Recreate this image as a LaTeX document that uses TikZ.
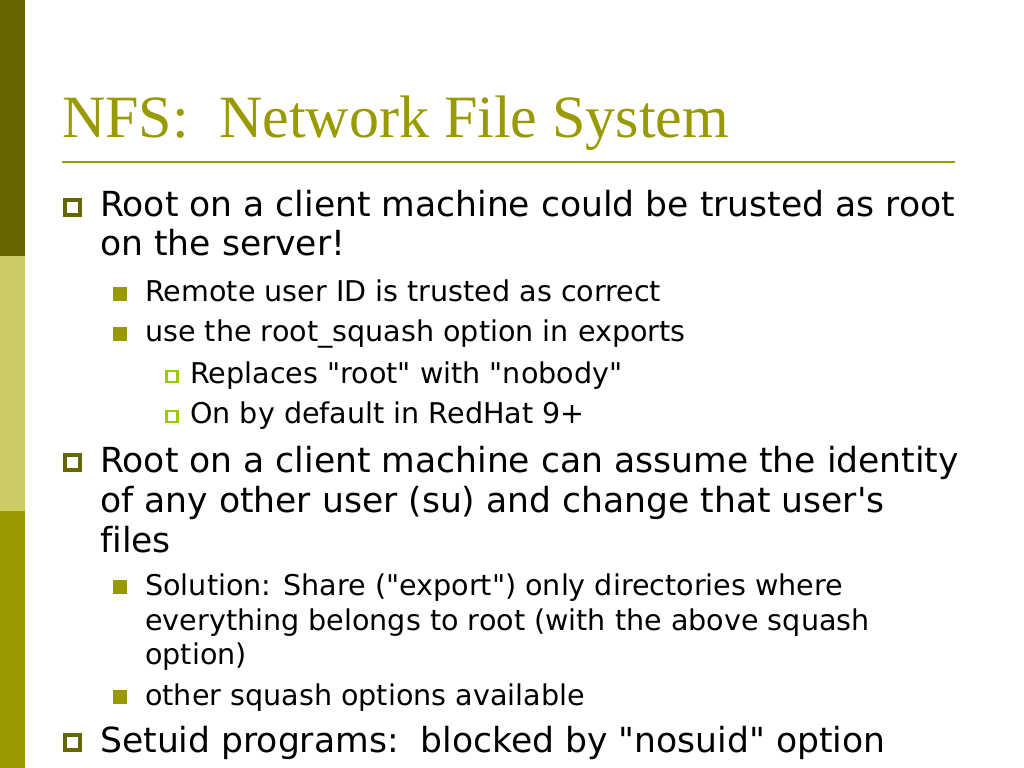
\documentclass[tikz,border=0pt]{standalone}
\usepackage{fontspec}
\newfontfamily\titlefont{Liberation Serif}
\newfontfamily\bodyfont{DejaVu Sans}[Ligatures={TeXOff,NoCommon}]
\definecolor{slidedark}{HTML}{666600}
\definecolor{slideolive}{HTML}{999900}
\definecolor{slidepale}{HTML}{CCCC66}
\definecolor{slidelime}{HTML}{99CC00}

\begin{document}
\begin{tikzpicture}
  [x=0.703125pt,y=-0.703125pt,
   title/.style={anchor=base west,inner sep=0,text=slideolive,font=\titlefont\fontsize{42.2}{48}\selectfont},
   lvlone/.style={anchor=base west,inner sep=0,font=\bodyfont\fontsize{24.3}{28}\selectfont},
   lvltwo/.style={anchor=base west,inner sep=0,font=\bodyfont\fontsize{20.1}{24}\selectfont},
   boxone/.style={draw=slidedark,line width=2.8pt,minimum size=10.4pt,inner sep=0},
   boxtwo/.style={fill=slideolive,minimum size=9.8pt,inner sep=0},
   boxthree/.style={draw=slidelime,line width=1.8pt,minimum size=7.6pt,inner sep=0}]
  \useasboundingbox (0,0) rectangle (1024,768);
  \fill[white] (0,0) rectangle (1024,768);

  % side bars
  \fill[slidedark] (0,0) rectangle (25,256);
  \fill[slidepale] (0,256) rectangle (25,511);
  \fill[slideolive] (0,511) rectangle (25,768);

  % title and rule
  \node[title] (head) at (62,138) {NFS:\ \ Network File System};
  \coordinate (ruleL) at (62,162);
  \coordinate (ruleR) at (955,162);
  \draw[slideolive,line width=1.5pt] (ruleL) -- (ruleR);

  % first level
  \node[lvlone] (trust) at (100,217) {Root on a client machine could be trusted as root};
  \node[lvlone] (trustb) at (100,256) {on the server!};
  \node[lvlone] (assume) at (100,472) {Root on a client machine can assume the identity};
  \node[lvlone] (assumeb) at (100,512) {of any other user (su) and change that user's};
  \node[lvlone] (assumec) at (100,552) {files};
  \node[lvlone] (setuid) at (100,752) {Setuid programs:\ \ blocked by "nosuid" option};

  % second level
  \node[lvltwo] (remote) at (145,302) {Remote user ID is trusted as correct};
  \node[lvltwo] (squash) at (145,342) {use the root\_squash option in exports};
  \node[lvltwo] (share) at (145,595) {Solution: Share ("export") only directories where};
  \node[lvltwo] (shareb) at (145,630) {everything belongs to root (with the above squash};
  \node[lvltwo] (sharec) at (145,664) {option)};
  \node[lvltwo] (other) at (145,705) {other squash options available};

  % third level
  \node[lvltwo] (nobody) at (190,383) {Replaces "root" with "nobody"};
  \node[lvltwo] (redhat) at (190,423) {On by default in RedHat 9+};

  % bullets
  \foreach \yy [count=\i] in {217,472,752}
    \node[boxone] (bone\i) at (72.5,\yy-9.5) {};
  \foreach \yy [count=\i] in {302,342,595,705}
    \node[boxtwo] (btwo\i) at (120,\yy-8) {};
  \foreach \yy [count=\i] in {383,423}
    \node[boxthree] (bthree\i) at (172,\yy-6.5) {};

\end{tikzpicture}
\end{document}
